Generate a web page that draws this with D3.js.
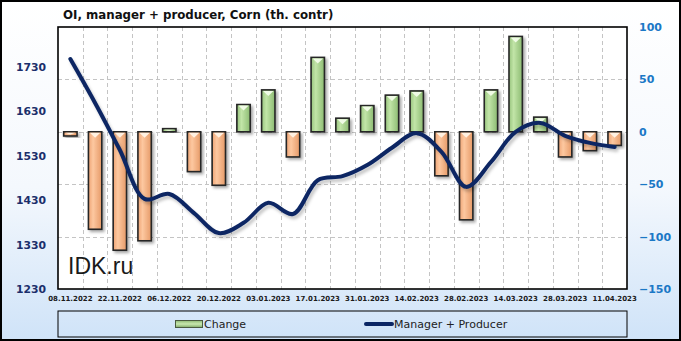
<!DOCTYPE html>
<html><head><meta charset="utf-8">
<script src="https://cdn.jsdelivr.net/npm/d3@7"></script>
<style>
html,body{margin:0;padding:0;background:#fff;}
svg{display:block;}
</style></head>
<body>
<script>
const dates = ["08.11.2022","15.11.2022","22.11.2022","29.11.2022","06.12.2022","13.12.2022","20.12.2022","27.12.2022","03.01.2023","10.01.2023","17.01.2023","24.01.2023","31.01.2023","07.02.2023","14.02.2023","21.02.2023","28.02.2023","07.03.2023","14.03.2023","21.03.2023","28.03.2023","04.04.2023","11.04.2023"];
const change = [-4,-93,-113,-104,3,-38,-51,26,40,-24,71,13,25,35,39,-42,-84,40,91,14,-24,-18,-13];
const total = [1748,1649,1543,1433,1444,1401,1356,1379,1424,1399,1475,1484,1509,1548,1581,1539,1460,1516,1584,1604,1575,1559,1550];
const leftTicks = [1230,1330,1430,1530,1630,1730];
const rightTicks = [-150,-100,-50,0,50,100];
const titleText = "OI, manager + producer, Corn (th. contr)";

const W = 681, H = 341;
const M = {l:58, r:627, t:27, b:289};

const svg = d3.select("body").append("svg").attr("width", W).attr("height", H);
const defs = svg.append("defs");

const bg = defs.append("linearGradient").attr("id","bg").attr("x1",0).attr("y1",0).attr("x2",0).attr("y2",1);
bg.append("stop").attr("offset","0%").attr("stop-color","#ffffff");
bg.append("stop").attr("offset","55%").attr("stop-color","#f4f8fd");
bg.append("stop").attr("offset","100%").attr("stop-color","#cfe3f8");

function barGrad(id, c0, c1, c2){
  const g = defs.append("linearGradient").attr("id",id).attr("x1",0).attr("y1",0).attr("x2",1).attr("y2",0);
  g.append("stop").attr("offset","0%").attr("stop-color",c0);
  g.append("stop").attr("offset","35%").attr("stop-color",c1);
  g.append("stop").attr("offset","100%").attr("stop-color",c2);
}
barGrad("gNeg","#eea475","#fdc8a0","#e69a68");
barGrad("gPos","#98c47e","#c2e5a8","#8cbb72");

const sh = defs.append("filter").attr("id","shadow").attr("x","-30%").attr("y","-30%").attr("width","160%").attr("height","160%");
sh.append("feDropShadow").attr("dx",2).attr("dy",2).attr("stdDeviation",1.6).attr("flood-color","#000").attr("flood-opacity",0.35);
const shL = defs.append("filter").attr("id","shadowL").attr("x","-10%").attr("y","-10%").attr("width","120%").attr("height","120%");
shL.append("feDropShadow").attr("dx",2).attr("dy",3).attr("stdDeviation",1.5).attr("flood-color","#000").attr("flood-opacity",0.22);

// background
svg.append("rect").attr("x",0).attr("y",0).attr("width",W).attr("height",H).attr("fill","url(#bg)");
svg.append("rect").attr("x",1).attr("y",1).attr("width",W-2).attr("height",H-2).attr("fill","none").attr("stroke","#000").attr("stroke-width",2);

// plot area
svg.append("rect").attr("x",M.l).attr("y",M.t).attr("width",M.r-M.l).attr("height",M.b-M.t).attr("fill","#fff");

const x = d3.scaleBand().domain(dates).range([M.l, M.r]).padding(0);
const step = x.step();
const bw = step*0.54;
const yR = d3.scaleLinear().domain([-150,100]).range([M.b, M.t]);
const yL = d3.scaleLinear().domain([1230, 1820]).range([M.b, M.t]);

// grid
const grid = svg.append("g").attr("stroke","#c4c4c4").attr("stroke-dasharray","4,3").attr("stroke-width",1);
grid.selectAll("line.h").data(rightTicks.filter(t=>t>-150 && t<100)).join("line")
  .attr("x1",M.l).attr("x2",M.r).attr("y1",d=>Math.round(yR(d))+0.5).attr("y2",d=>Math.round(yR(d))+0.5);
grid.selectAll("line.v").data(dates.slice(1)).join("line")
  .attr("x1",d=>Math.round(x(d))+0.5).attr("x2",d=>Math.round(x(d))+0.5).attr("y1",M.t).attr("y2",M.b);

// bars
const bars = svg.append("g");
const y0 = yR(0);
const bg2 = bars.selectAll("g").data(dates.map((d,i)=>({d, v:change[i]}))).join("g");
bg2.append("rect")
  .attr("x", d=>x(d.d)+(step-bw)/2)
  .attr("y", d=>Math.min(y0, yR(d.v)))
  .attr("width", bw)
  .attr("height", d=>Math.max(1.5, Math.abs(yR(d.v)-y0)))
  .attr("fill", d=>d.v<0?"url(#gNeg)":"url(#gPos)")
  .attr("stroke","#262626").attr("stroke-width",1.6)
  .attr("filter","url(#shadow)");
bg2.append("path")
  .attr("d", d=>{
    const h = Math.abs(yR(d.v)-y0);
    const top = Math.min(y0, yR(d.v))+1;
    const th = Math.min(5, h/2-0.5);
    if (th <= 0.5) return "";
    const xl = x(d.d)+(step-bw)/2+1.5, xr = xl+bw-3;
    return `M${xl},${top}L${xr},${top}L${(xl+xr)/2},${top+th}Z`;
  })
  .attr("fill", d=>d.v<0?"#fff1e2":"#f0fbe6");

// line
const line = d3.line().x((d,i)=>x(dates[i])+step/2).y(d=>yL(d)).curve(d3.curveCatmullRom.alpha(0.5));
svg.append("path").datum(total).attr("d",line).attr("fill","none")
  .attr("stroke","#0b2664").attr("stroke-width",4).attr("stroke-linecap","round").attr("stroke-linejoin","round")
  .attr("filter","url(#shadowL)");

// frame
svg.append("rect").attr("x",M.l).attr("y",M.t).attr("width",M.r-M.l).attr("height",M.b-M.t)
  .attr("fill","none").attr("stroke","#000").attr("stroke-width",1.6);

// watermark
svg.append("text").attr("x",68).attr("y",274).attr("font-family","Liberation Sans, Arial, sans-serif")
  .attr("font-size",23).attr("fill","#1a1a1a").text("IDK.ru");

// axes
const axL = svg.append("g").attr("transform",`translate(${M.l-12},0)`)
  .call(d3.axisLeft(yL).tickValues(leftTicks).tickSize(0).tickPadding(0).tickFormat(d3.format("d")));
axL.select(".domain").remove();
axL.selectAll("text").attr("font-family","DejaVu Sans, Verdana, sans-serif").attr("font-weight","bold")
  .attr("font-size",10.8).attr("fill","#1b2f6b");

const axR = svg.append("g").attr("transform",`translate(${M.r+12},0)`)
  .call(d3.axisRight(yR).tickValues(rightTicks).tickSize(0).tickPadding(0).tickFormat(d3.format("d")));
axR.select(".domain").remove();
axR.selectAll("text").attr("font-family","DejaVu Sans, Verdana, sans-serif").attr("font-weight","bold")
  .attr("font-size",11).attr("fill","#1b78c6");

const axB = svg.append("g").attr("transform",`translate(0,${M.b})`)
  .call(d3.axisBottom(x).tickValues(dates.filter((d,i)=>i%2===0)).tickSize(0).tickPadding(7.5));
axB.select(".domain").remove();
axB.selectAll("text").attr("font-family","DejaVu Sans, Verdana, sans-serif").attr("font-weight","bold")
  .attr("font-size",7).attr("fill","#1a1a1a");

// title
svg.append("text").attr("x",63).attr("y",19).attr("font-family","DejaVu Sans, Verdana, sans-serif")
  .attr("font-weight","bold").attr("font-size",11.8).attr("fill","#111").text(titleText);

// legend
const lg = svg.append("g");
lg.append("rect").attr("x",M.l).attr("y",311).attr("width",M.r-M.l).attr("height",26)
  .attr("fill","none").attr("stroke","#000").attr("stroke-width",1);
const lgGrad = defs.append("linearGradient").attr("id","lgG").attr("x1",0).attr("y1",0).attr("x2",0).attr("y2",1);
lgGrad.append("stop").attr("offset","0%").attr("stop-color","#8fb874");
lgGrad.append("stop").attr("offset","50%").attr("stop-color","#c8e8b0");
lgGrad.append("stop").attr("offset","100%").attr("stop-color","#7fa866");
lg.append("rect").attr("x",175.5).attr("y",320.5).attr("width",27).attr("height",7)
  .attr("fill","url(#lgG)").attr("stroke","#4a5a40").attr("stroke-width",1);
lg.append("text").attr("x",204).attr("y",328).attr("font-family","DejaVu Sans, Verdana, sans-serif")
  .attr("font-size",11).attr("fill","#222").text("Change");
lg.append("line").attr("x1",366).attr("x2",392).attr("y1",324).attr("y2",324)
  .attr("stroke","#0b2664").attr("stroke-width",4).attr("stroke-linecap","round");
lg.append("text").attr("x",394).attr("y",328).attr("font-family","DejaVu Sans, Verdana, sans-serif")
  .attr("font-size",11).attr("fill","#222").text("Manager + Producer");
</script>
</body></html>
